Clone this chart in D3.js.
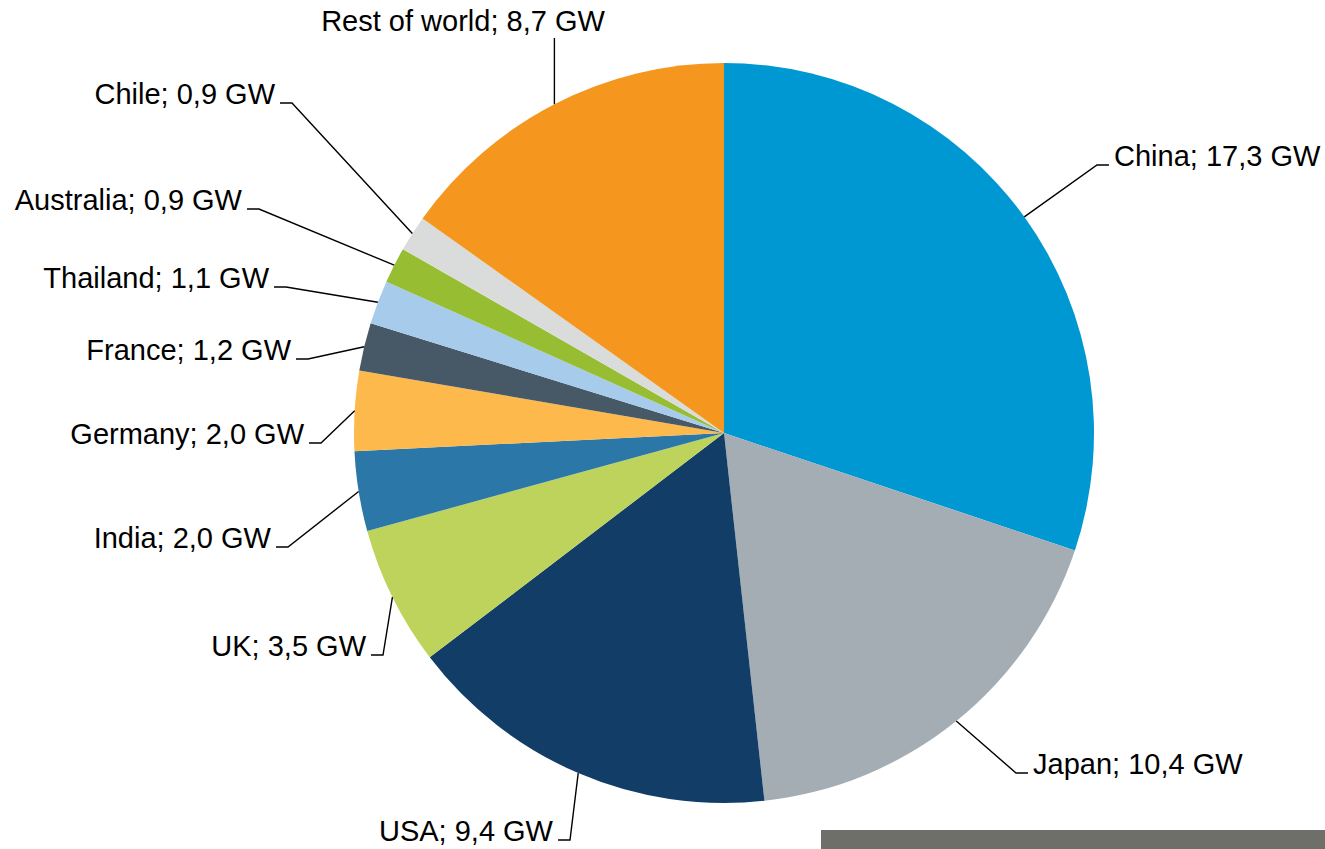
<!DOCTYPE html>
<html>
<head>
<meta charset="utf-8">
<script src="https://d3js.org/d3.v7.min.js"></script>
<style>
    body {
        margin: 0;
        background: #ffffff;
    }
    text {
        font-family: "Liberation Sans", Arial, sans-serif;
        font-size: 29px;
        fill: #000000;
    }
    .leader {
        fill: none;
        stroke: #000000;
        stroke-width: 1.4px;
    }
</style>
</head>
<body>
<div id="container"></div>

<script>

    // data, in clockwise order starting at 12 o'clock
    const countries = ["China", "Japan", "USA", "UK", "India", "Germany", "France", "Thailand", "Australia", "Chile", "Rest of world"];
    const capacity = [17.3, 10.4, 9.4, 3.5, 2.0, 2.0, 1.2, 1.1, 0.9, 0.9, 8.7];
    const unit = "GW";
    const colors = ["#0098d2", "#a3adb3", "#123d66", "#bed35b", "#2b78a8", "#fdb94b", "#475866", "#a6cbeb", "#97be33", "#d9dcdb", "#f5961f"];

    // label elbows, as offsets from the pie centre (hand placed like the original)
    // side: 1 = text to the right, -1 = text to the left, 0 = text above
    const labelLayout = [
        {dx: 373, dy: -268, side: 1},
        {dx: 292, dy: 340, side: 1},
        {dx: -154, dy: 407, side: -1},
        {dx: -341, dy: 222, side: -1},
        {dx: -436, dy: 114, side: -1},
        {dx: -403, dy: 10, side: -1},
        {dx: -416, dy: -74, side: -1},
        {dx: -438, dy: -146, side: -1},
        {dx: -465, dy: -224, side: -1},
        {dx: -432, dy: -330, side: -1},
        {dx: -169, dy: -395, side: 0}
    ];

    const width = 1325, height = 849;
    const cx = 724, cy = 433, radius = 370;

    const svg = d3.select("#container")
        .append("svg")
        .attr("width", width)
        .attr("height", height);

    const g = svg.append("g")
        .attr("transform", `translate(${cx}, ${cy})`);

    const rows = countries.map((c, i) => ({name: c, value: capacity[i], color: colors[i], lay: labelLayout[i]}));

    const pie = d3.pie()
        .sort(null)
        .value(d => d.value);

    const arc = d3.arc()
        .innerRadius(0)
        .outerRadius(radius);

    // point on the rim at the middle of each slice
    const rim = d3.arc()
        .innerRadius(radius)
        .outerRadius(radius);

    const arcs = pie(rows);

    g.selectAll("path.slice")
        .data(arcs)
        .join("path")
        .attr("class", "slice")
        .attr("d", arc)
        .attr("fill", d => d.data.color);

    const fmt = v => d3.format(".1f")(v).replace(".", ",");

    // leader lines
    g.selectAll("polyline.leader")
        .data(arcs)
        .join("polyline")
        .attr("class", "leader")
        .attr("points", d => {
            const p = rim.centroid(d);
            const l = d.data.lay;
            if (l.side === 0) return [p, [p[0], l.dy]].map(q => q.join(",")).join(" ");
            return [p, [l.dx, l.dy], [l.dx + l.side * 12, l.dy]].map(q => q.join(",")).join(" ");
        });

    // labels, baseline sits on the short horizontal tick
    g.selectAll("text.label")
        .data(arcs)
        .join("text")
        .attr("class", "label")
        .attr("x", d => {
            const l = d.data.lay;
            if (l.side === 0) return -261;
            return l.dx + l.side * 17;
        })
        .attr("y", d => d.data.lay.side === 0 ? d.data.lay.dy - 7 : d.data.lay.dy + 1)
        .attr("text-anchor", d => d.data.lay.side === 1 ? "start" : (d.data.lay.side === -1 ? "end" : "middle"))
        .text(d => `${d.data.name}; ${fmt(d.data.value)} ${unit}`);

    // grey footer strip
    svg.append("rect")
        .attr("x", 821)
        .attr("y", 830)
        .attr("width", width - 821)
        .attr("height", height - 830)
        .attr("fill", "#6e6f69");

</script>
</body>
</html>
